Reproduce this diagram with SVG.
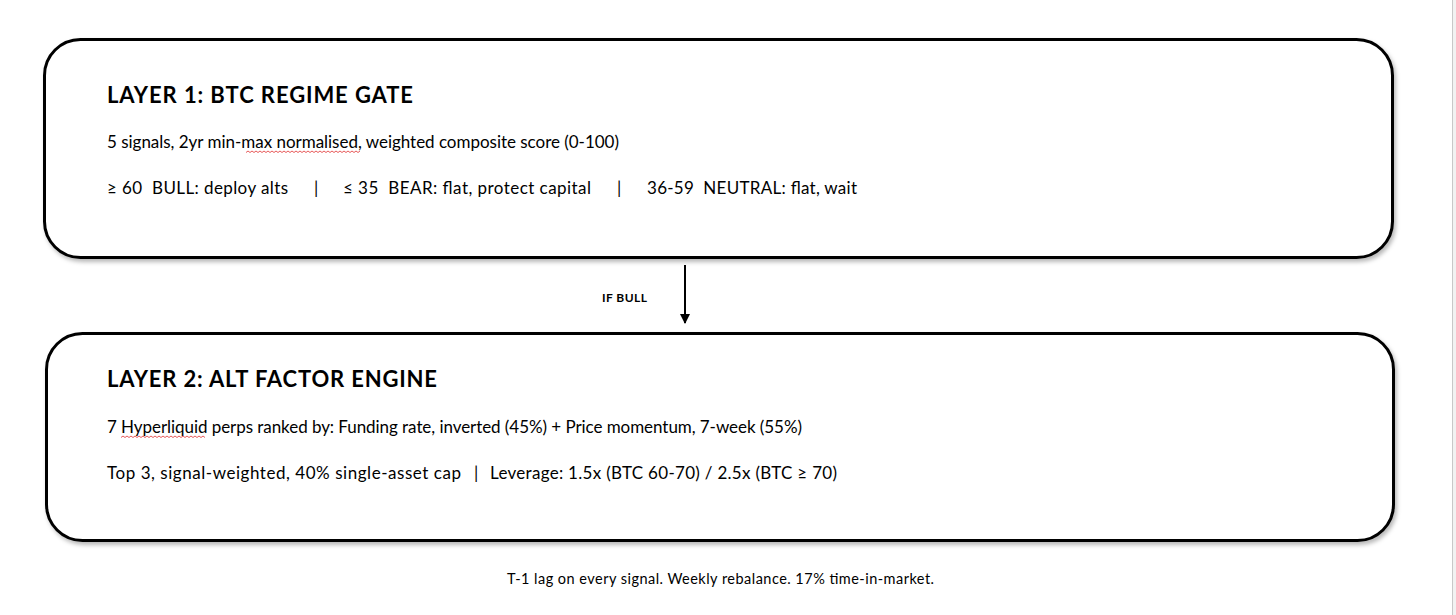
<svg xmlns="http://www.w3.org/2000/svg" width="1456" height="615" viewBox="0 0 1456 615">
  <defs>
    <filter id="shadow" x="-5%" y="-10%" width="110%" height="125%">
      <feDropShadow dx="2" dy="3" stdDeviation="2" flood-color="#000" flood-opacity="0.28"/>
    </filter>
    <marker id="arrow" viewBox="0 0 10 10" refX="9" refY="5" markerWidth="5" markerHeight="5" orient="auto" markerUnits="strokeWidth">
      <path d="M0,0 L10,5 L0,10 z" fill="#000"/>
    </marker>
  </defs>
  <style>
    text { white-space: pre; }
    .box { fill: #fff; stroke: #000; stroke-width: 3; }
    .title { font-family: "Lato", "Open Sans", sans-serif; font-weight: bold; font-size: 22px; fill: #000; }
    .body { font-family: "Lato", "Open Sans", sans-serif; font-size: 17px; fill: #000; }
    .label { font-family: "Lato", "Open Sans", sans-serif; font-weight: bold; font-size: 12px; fill: #000; }
    .foot { font-family: "Lato", "Open Sans", sans-serif; font-size: 14.5px; fill: #000; }
    .squiggle { fill: none; stroke: #e03030; stroke-width: 0.8; }
  </style>
  <rect x="0" y="0" width="1456" height="615" fill="#fff"/>
  <rect x="1452" y="0" width="4" height="615" fill="#f2f2f2"/>
  <line x1="1452.5" y1="0" x2="1452.5" y2="615" stroke="#c8c8c8" stroke-width="1"/>

  <g id="layer1">
    <rect class="box" x="44.5" y="39.5" width="1348" height="218" rx="36" ry="36" filter="url(#shadow)"/>
    <text class="title" x="107" y="103" textLength="306">LAYER 1: BTC REGIME GATE</text>
    <text class="body" x="107" y="148" textLength="512">5 signals, 2yr min-max normalised, weighted composite score (0-100)</text>
    <path class="squiggle" d="M246,152.5 l2,-1.5 l2,1.5 l2,-1.5 l2,1.5 l2,-1.5 l2,1.5 l2,-1.5 l2,1.5 l2,-1.5 l2,1.5 l2,-1.5 l2,1.5 l2,-1.5 l2,1.5 l2,-1.5 l2,1.5 l2,-1.5 l2,1.5 l2,-1.5 l2,1.5 l2,-1.5 l2,1.5 l2,-1.5 l2,1.5 l2,-1.5 l2,1.5 l2,-1.5 l2,1.5 l2,-1.5 l2,1.5 l2,-1.5 l2,1.5 l2,-1.5 l2,1.5 l2,-1.5 l2,1.5 l2,-1.5 l2,1.5 l2,-1.5 l2,1.5 l2,-1.5 l2,1.5 l2,-1.5 l2,1.5 l2,-1.5 l2,1.5 l2,-1.5 l2,1.5 l2,-1.5 l2,1.5 l2,-1.5 l2,1.5 l2,-1.5 l2,1.5 l2,-1.5 l2,1.5 l2,-1.5"/>
    <text class="body" x="107" y="194" textLength="181">≥ 60  BULL: deploy alts</text>
    <text class="body" x="314" y="194">|</text>
    <text class="body" x="343" y="194" textLength="248">≤ 35  BEAR: flat, protect capital</text>
    <text class="body" x="617" y="194">|</text>
    <text class="body" x="647" y="194" textLength="210">36-59  NEUTRAL: flat, wait</text>
  </g>

  <g id="connectors">
    <line x1="685" y1="265" x2="685" y2="323" stroke="#000" stroke-width="2" marker-end="url(#arrow)"/>
    <text class="label" x="602" y="302" textLength="45">IF BULL</text>
  </g>

  <g id="layer2">
    <rect class="box" x="46.5" y="333.5" width="1347" height="207" rx="36" ry="36" filter="url(#shadow)"/>
    <text class="title" x="107" y="387" textLength="330">LAYER 2: ALT FACTOR ENGINE</text>
    <text class="body" x="107" y="433" textLength="695">7 Hyperliquid perps ranked by: Funding rate, inverted (45%) + Price momentum, 7-week (55%)</text>
    <path class="squiggle" d="M121,437.5 l2,-1.5 l2,1.5 l2,-1.5 l2,1.5 l2,-1.5 l2,1.5 l2,-1.5 l2,1.5 l2,-1.5 l2,1.5 l2,-1.5 l2,1.5 l2,-1.5 l2,1.5 l2,-1.5 l2,1.5 l2,-1.5 l2,1.5 l2,-1.5 l2,1.5 l2,-1.5 l2,1.5 l2,-1.5 l2,1.5 l2,-1.5 l2,1.5 l2,-1.5 l2,1.5 l2,-1.5 l2,1.5 l2,-1.5 l2,1.5 l2,-1.5 l2,1.5 l2,-1.5 l2,1.5 l2,-1.5 l2,1.5 l2,-1.5 l2,1.5 l2,-1.5 l2,1.5"/>
    <text class="body" x="107" y="479" textLength="354">Top 3, signal-weighted, 40% single-asset cap</text>
    <text class="body" x="474" y="479">|</text>
    <text class="body" x="490" y="479" textLength="347">Leverage: 1.5x (BTC 60-70) / 2.5x (BTC ≥ 70)</text>
  </g>

  <g id="footer">
    <text class="foot" x="507" y="584" textLength="427">T-1 lag on every signal. Weekly rebalance. 17% time-in-market.</text>
  </g>
</svg>
